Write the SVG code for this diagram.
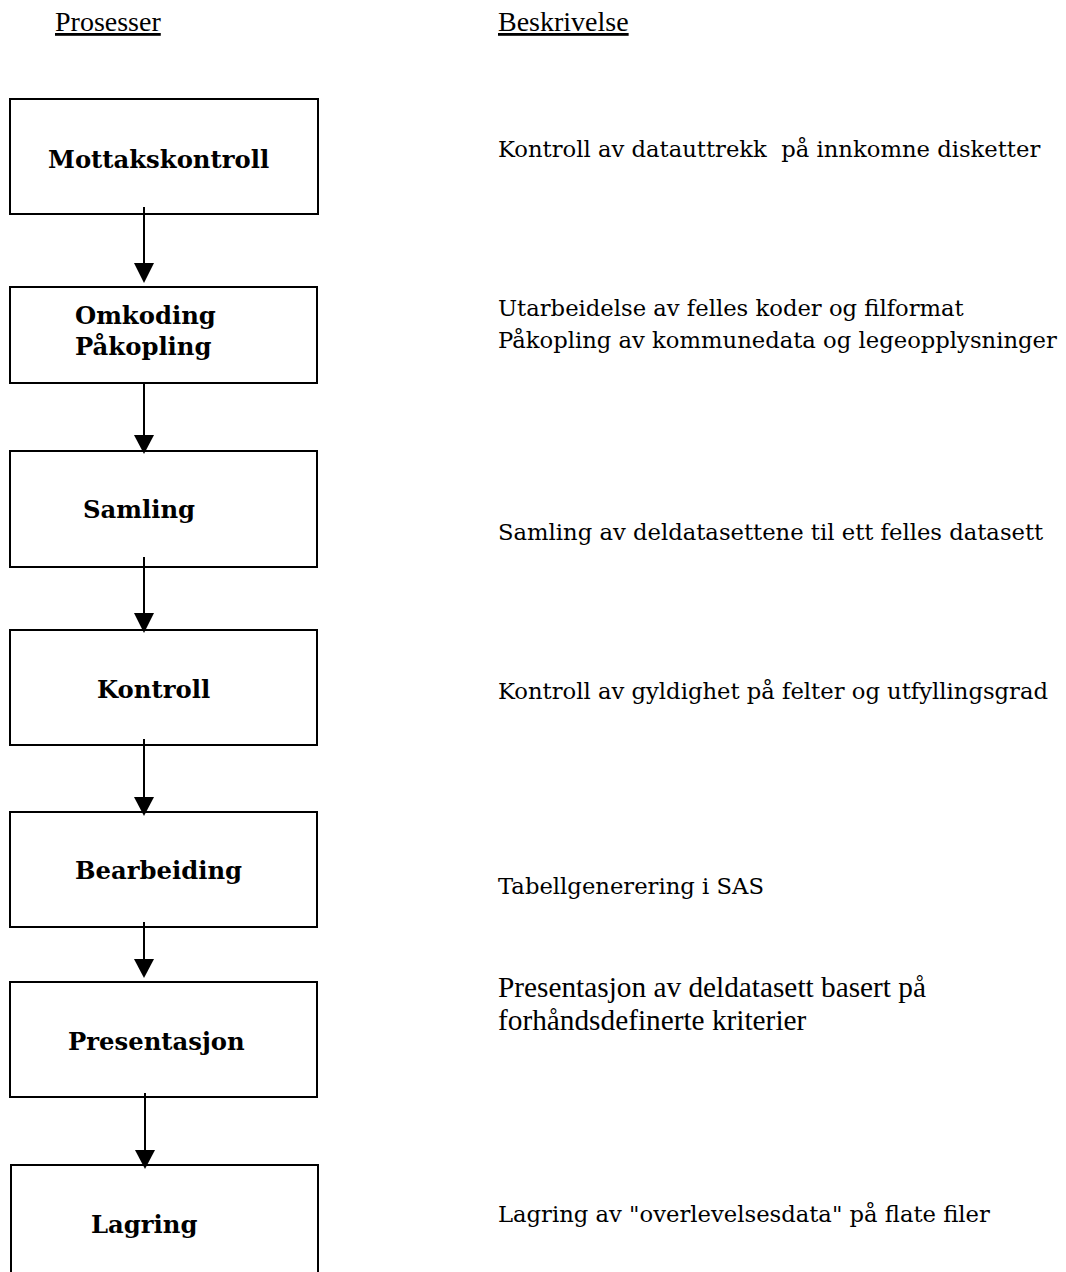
<svg xmlns="http://www.w3.org/2000/svg" width="1066" height="1272" viewBox="0 0 1066 1272">
  <style>
    .box { fill: #ffffff; stroke: #000000; stroke-width: 2; }
    .label { font-family: "DejaVu Serif", "Liberation Serif", serif; font-weight: bold; font-size: 24.3px; fill: #000000; }
    .head { font-family: "Liberation Serif", serif; font-size: 28px; fill: #000000; text-decoration: underline; }
    .desc { font-family: "DejaVu Serif", "Liberation Serif", serif; font-size: 22.7px; fill: #000000; }
    .desc-t { font-family: "Liberation Serif", serif; font-size: 29.3px; fill: #000000; }
    .wire { stroke: #000000; stroke-width: 2; fill: none; }
    .tip { fill: #000000; }
  </style>

  <rect width="1066" height="1272" fill="#ffffff"/>

  <!-- column headings -->
  <g id="headings">
    <text class="head" x="55" y="31">Prosesser</text>
    <text class="head" x="498" y="31">Beskrivelse</text>
  </g>

  <!-- process boxes -->
  <g id="mottakskontroll">
    <rect class="box" x="10" y="99" width="308" height="115"/>
    <text class="label" x="48" y="168">Mottakskontroll</text>
  </g>
  <g id="omkoding">
    <rect class="box" x="10" y="287" width="307" height="96"/>
    <text class="label" x="75" y="324">Omkoding</text>
    <text class="label" x="75" y="355">Påkopling</text>
  </g>
  <g id="samling">
    <rect class="box" x="10" y="451" width="307" height="116"/>
    <text class="label" x="83" y="518">Samling</text>
  </g>
  <g id="kontroll">
    <rect class="box" x="10" y="630" width="307" height="115"/>
    <text class="label" x="97" y="698">Kontroll</text>
  </g>
  <g id="bearbeiding">
    <rect class="box" x="10" y="812" width="307" height="115"/>
    <text class="label" x="75" y="879">Bearbeiding</text>
  </g>
  <g id="presentasjon">
    <rect class="box" x="10" y="982" width="307" height="115"/>
    <text class="label" x="68" y="1050">Presentasjon</text>
  </g>
  <g id="lagring">
    <rect class="box" x="11" y="1165" width="307" height="120"/>
    <text class="label" x="91" y="1233">Lagring</text>
  </g>

  <!-- connectors between the process steps -->
  <g id="connectors">
    <line class="wire" x1="144" y1="207" x2="144" y2="265"/>
    <polygon class="tip" points="134,263 154,263 144,283"/>

    <line class="wire" x1="144" y1="383" x2="144" y2="437"/>
    <polygon class="tip" points="134,435 154,435 144,454"/>

    <line class="wire" x1="144" y1="557" x2="144" y2="615"/>
    <polygon class="tip" points="134,613 154,613 144,633"/>

    <line class="wire" x1="144" y1="739" x2="144" y2="799"/>
    <polygon class="tip" points="134,797 154,797 144,816"/>

    <line class="wire" x1="144" y1="922" x2="144" y2="961"/>
    <polygon class="tip" points="134,959 154,959 144,978"/>

    <line class="wire" x1="145" y1="1093" x2="145" y2="1152"/>
    <polygon class="tip" points="135,1150 155,1150 145,1169"/>
  </g>

  <!-- descriptions -->
  <g id="descriptions">
    <text class="desc" x="498" y="157" xml:space="preserve">Kontroll av datauttrekk  på innkomne disketter</text>
    <text class="desc" x="498" y="316">Utarbeidelse av felles koder og filformat</text>
    <text class="desc" x="498" y="348">Påkopling av kommunedata og legeopplysninger</text>
    <text class="desc" x="498" y="540">Samling av deldatasettene til ett felles datasett</text>
    <text class="desc" x="498" y="699">Kontroll av gyldighet på felter og utfyllingsgrad</text>
    <text class="desc" x="498" y="894">Tabellgenerering i SAS</text>
    <text class="desc-t" x="498" y="997">Presentasjon av deldatasett basert på</text>
    <text class="desc-t" x="498" y="1030">forhåndsdefinerte kriterier</text>
    <text class="desc" x="498" y="1222">Lagring av "overlevelsesdata" på flate filer</text>
  </g>
</svg>
